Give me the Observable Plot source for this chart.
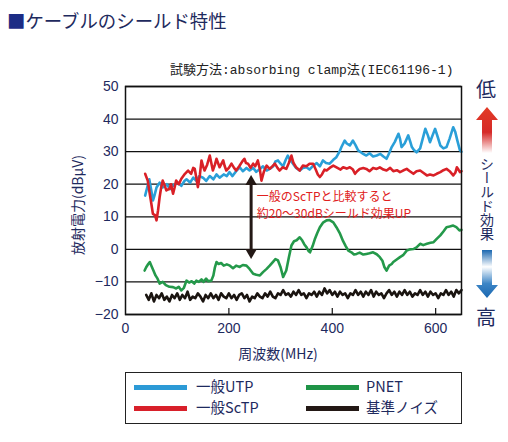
<!DOCTYPE html>
<html><head><meta charset="utf-8">
<script src="https://cdn.jsdelivr.net/npm/d3@7"></script>
<script src="https://cdn.jsdelivr.net/npm/@observablehq/plot@0.6"></script>
<style>
body{margin:0;background:#fff;}
#wrap{position:relative;width:508px;height:442px;overflow:hidden;font-family:"Noto Sans CJK JP",sans-serif;color:#1e2a5e;background:#fff}
#wrap > svg{position:absolute;left:0;top:0}
.abs{position:absolute;white-space:nowrap;line-height:1}
.lg{position:absolute;font-size:14.5px;line-height:1;white-space:nowrap}
.sw{position:absolute;width:53px;height:5px}
</style></head><body><div id="wrap">
<div class="abs" style="left:7px;top:11px;font-size:18.4px;"><span style="color:#1c2c85">■</span>ケーブルのシールド特性</div>
<div class="abs" style="left:170px;top:64px;font-size:13px;color:#222;font-family:'Liberation Mono','Noto Sans CJK JP',monospace">試験方法:absorbing clamp法(IEC61196-1)</div>
<div class="abs" style="left:77px;top:205px;font-size:14px;transform:translate(-50%,-50%) rotate(-90deg);transform-origin:center">放射電力(dBμV)</div>
<div class="abs" style="left:278px;top:353px;font-size:14px;transform:translate(-50%,-50%)">周波数(MHz)</div>
<div class="abs" style="left:476px;top:79px;font-size:20px;">低</div>
<div class="abs" style="left:476px;top:307px;font-size:20px;">高</div>
<div class="abs" style="left:480px;top:157px;font-size:14px;writing-mode:vertical-rl;line-height:1;">シールド効果</div>
<svg style="position:absolute;left:476px;top:105px" width="24" height="195">
<defs>
<linearGradient id="gr" x1="0" y1="0" x2="0" y2="1">
<stop offset="0" stop-color="#e23b26"/><stop offset="0.55" stop-color="#d62a28"/><stop offset="1" stop-color="#ffffff"/>
</linearGradient>
<linearGradient id="gb" x1="0" y1="0" x2="0" y2="1">
<stop offset="0" stop-color="#1a67b0"/><stop offset="0.35" stop-color="#ffffff"/><stop offset="0.7" stop-color="#3c85c6"/><stop offset="1" stop-color="#1a67b0"/>
</linearGradient>
</defs>
<path d="M11,2 L22,15 L16,15 L16,48 L6,48 L6,15 L0,15 Z" fill="url(#gr)"/>
<path d="M6,145 L16,145 L16,180 L22,180 L11,193 L0,180 L6,180 Z" fill="url(#gb)"/>
</svg>
<div class="abs" style="left:125px;top:372px;width:335px;height:50px;border:1px solid #222;"></div>
<div class="sw" style="left:134px;top:385px;background:#2c9ad6"></div>
<div class="lg" style="left:196px;top:379px">一般UTP</div>
<div class="sw" style="left:134px;top:406px;background:#d8202a"></div>
<div class="lg" style="left:196px;top:400px">一般ScTP</div>
<div class="sw" style="left:306px;top:385px;background:#1f9447"></div>
<div class="lg" style="left:366px;top:379px">PNET</div>
<div class="sw" style="left:306px;top:406px;background:#231815"></div>
<div class="lg" style="left:366px;top:400px">基準ノイズ</div>
</div>
<script>
const yTicks = [-20, -10, 0, 10, 20, 30, 40, 50];
const xTicks = [0, 200, 400, 600];

const utpMHz = [38,42,46,50,53,56,60,66,72,80,86,92,100,108,114,118,125,131,137,143,150,156,163,170,176,182,190,196,201,207,214,221,227,234,240,247,253,260,266,273,279,286,290,295,300,305,310,314,318,324,330,337,343,350,356,363,370,376,382,388,395,402,408,414,418,424,428,434,440,445,450,458,466,472,479,486,493,499,505,510,515,521,528,531,534,540,547,551,554,558,563,570,575,580,585,589,594,599,604,609,615,621,627,634,638,642,647,650];
const utpDb = [16.5,19,21.5,18,15,16.5,19,20.5,19,20,18.5,19.5,20.5,19.5,21,21.5,20.5,22,21,22.5,22,21,22.5,21.5,23,22,23,22.5,23.7,22.5,24,25.2,24,25,24.2,25,23.8,24.7,25.5,24.2,24.7,25.5,27,27.3,26.3,25.5,27.5,28.8,27.5,26.3,25,24.2,25,25.2,24.5,25.7,26.5,25.5,27.3,26.5,26.3,27.5,28.3,30,31.5,33.4,32.5,31.9,33.4,32,30.4,29.5,28.8,29.5,28.5,28.8,29.3,28.5,27.8,29.5,31.4,33,35.5,34,31.4,32.5,35,33,31.4,30.5,29.8,31,34,37,35,32.9,35,37,34.5,31.9,31,31.4,34,37.5,36,33.4,30.4,30];

const sctpMHz = [38,43,47,50,53,57,60,63,66,69,72,76,79,85,88,92,95,98,103,108,115,121,127,131,134,137,140,144,147,150,153,158,163,166,169,173,176,182,189,192,195,200,205,210,214,220,226,230,233,237,242,247,251,256,260,263,268,273,279,284,289,294,298,304,311,316,321,325,330,337,343,350,356,363,368,372,376,380,385,389,395,402,410,416,421,428,434,440,444,448,453,460,466,472,479,486,492,499,505,512,518,525,531,537,544,550,557,563,570,576,583,589,596,602,609,615,621,627,634,638,641,644,647,650];
const sctpDb = [23.2,21.1,17,14,10.9,10.5,8.9,12,16,19,21.1,19.5,18.1,18.6,20,17.1,19,21.1,20,21.7,23.2,24.2,23.2,25,24.7,22,19.1,23,27.3,25.5,24.2,26,28.8,26.5,24.2,26,27.8,25.2,27.3,25.5,24.2,25,26.3,25,24.2,25.5,27,27.8,26.5,26.3,25,26.3,25.5,27.3,24.5,21.1,24,25.7,24.7,25.5,26.3,25,24.2,25.2,24.7,26.5,28.8,26.5,25.2,24.2,25.7,25.5,26.3,26.3,24.5,23,22.2,23,24.5,24.2,25,25.7,25,24.5,25.2,24.8,25.2,24.5,23.2,24,24.7,25,24.7,24,25,24.7,25.2,24.5,24.2,25,24,24.3,23.7,24.2,24.7,24,23.2,24,24.2,23.5,22.7,23,22.7,23.2,23.7,24.3,24.7,24,22.7,23.5,25.2,24.5,23.7,24];

const pnetMHz = [37,40,44,47,50,54,58,62,66,72,78,85,92,98,103,108,113,118,123,128,133,137,142,147,151,156,160,166,170,173,176,180,185,190,196,202,208,214,221,227,234,240,247,253,260,266,273,279,285,290,295,300,305,311,316,321,326,331,337,342,346,350,354,357,362,366,371,376,382,389,395,402,408,415,421,426,431,437,442,447,453,460,466,472,479,486,492,497,501,505,510,515,518,524,531,537,544,550,557,563,570,576,583,590,596,602,609,615,621,627,634,640,646,650];
const pnetDb = [-6.5,-5.5,-4.5,-3.9,-5,-6.5,-8,-9,-10.5,-10,-11,-11.5,-11.6,-12,-11.5,-12.6,-11.8,-9.6,-10.2,-9.8,-10.5,-9.6,-10,-9.2,-10,-9,-9.8,-9.6,-8,-5.5,-3.9,-4.5,-4.2,-5,-4.6,-5,-5.8,-5,-5.4,-4.8,-5,-6,-7.5,-7.8,-8,-7,-6,-5,-3.9,-3,-3.4,-5.5,-8.5,-6.5,-2.5,1.2,2.5,2.8,3.7,2.7,1.5,0.7,-0.5,-0.9,1,3,5,6.8,8.2,8.9,9,8.3,6.8,4.8,2.5,1,-0.4,-0.9,-1.6,-1.4,-1,-1.6,-1.4,-1.2,-0.9,-1.5,-2.4,-3.5,-5.5,-6.5,-5,-4.5,-3.9,-3.2,-2.4,-1.8,-0.4,0,0.1,0.6,1.7,1.3,1.7,2,2.2,3.2,4.3,5.5,6.8,7,7.3,6.8,5.8,6];

const noiseMHz = [40,45,50,55,60,65,70,75,80,85,90,95,100,105,110,115,120,125,130,135,140,145,150,155,160,165,170,175,180,185,190,195,200,205,210,215,220,225,230,235,240,245,250,255,260,265,270,275,280,285,290,295,300,305,310,315,320,325,330,335,340,345,350,355,360,365,370,375,380,385,390,395,400,405,410,415,420,425,430,435,440,445,450,455,460,465,470,475,480,485,490,495,500,505,510,515,520,525,530,535,540,545,550,555,560,565,570,575,580,585,590,595,600,605,610,615,620,625,630,635,640,645,650];
const noiseDb = [-14,-15.5,-13.5,-16,-14,-15,-13.5,-15.5,-14.5,-16,-14,-15,-13.5,-15.5,-14,-15,-13,-15.5,-14.5,-15,-13.5,-14.5,-16,-14,-15,-13.5,-15,-14,-15.5,-13.5,-14.5,-15,-13.5,-15,-14,-15.5,-14,-13.5,-15,-14,-16,-14.5,-15,-13.5,-14.5,-15,-13.5,-14.5,-13,-14.5,-15,-13.5,-14,-12.5,-14,-13.5,-14.5,-13,-14,-12.5,-14,-13.5,-15,-13.5,-14,-13,-14.5,-13,-14,-12,-13.5,-12.5,-14,-13,-14.5,-13,-14,-13.5,-15,-13.5,-14,-12.5,-14,-13,-14.5,-13,-14,-12.5,-14.5,-13,-14,-13.5,-15,-13.5,-12.5,-14,-13,-14.5,-13,-14,-12.5,-14,-13,-14.5,-13.5,-14,-12.5,-14,-13,-14.5,-13,-14,-13.5,-15,-13.5,-14,-12.5,-14,-13,-14.5,-12.5,-13.5,-12.5];

const noteLines = ["一般のScTPと比較すると", "約20～30dBシールド効果UP"];
const noteMHz = 254;
const noteDb = 14.0;
const arrowMHz = 243;
const arrowTop = 22.7, arrowBottom = -2.8;

const pts = (xs, ys) => xs.map((x, i) => ({x, y: ys[i]}));
const lineOpts = (c) => ({x: "x", y: "y", stroke: c, strokeWidth: 2.6, strokeLinejoin: "round", strokeLinecap: "round"});

const chart = Plot.plot({
  width: 508, height: 442,
  marginLeft: 125, marginRight: 47, marginTop: 86, marginBottom: 128,
  style: {fontFamily: "'Liberation Sans Narrow','Liberation Sans',sans-serif", fontSize: "14px", color: "#1e2a5e", background: "transparent", overflow: "visible"},
  x: {domain: [0, 650]},
  y: {domain: [-20, 50]},
  marks: [
    Plot.ruleY(yTicks, {stroke: "#111", strokeWidth: 1.3}),
    Plot.tickX(xTicks.slice(1), {insetTop: 222, stroke: "#111", strokeWidth: 1.2}),
    Plot.axisY(yTicks, {tickSize: 0, tickPadding: 7, label: null, fontSize: 14}),
    Plot.axisX(xTicks, {tickSize: 0, tickPadding: 9, label: null, fontSize: 14}),
    Plot.line(pts(noiseMHz, noiseDb), lineOpts("#1a1410")),
    Plot.line(pts(pnetMHz, pnetDb), lineOpts("#24994a")),
    Plot.line(pts(utpMHz, utpDb), lineOpts("#2a9fd8")),
    Plot.line(pts(sctpMHz, sctpDb), lineOpts("#d92027")),
    Plot.ruleX([arrowMHz], {y1: arrowTop - 2.5, y2: arrowBottom + 2.5, stroke: "#231815", strokeWidth: 3}),
    Plot.dot([{x: arrowMHz, y: arrowTop - 1.9}], {x: "x", y: "y", symbol: "triangle", r: 4.3, fill: "#231815"}),
    Plot.dot([{x: arrowMHz, y: arrowBottom + 1.9}], {x: "x", y: "y", symbol: "triangle", r: 4.3, fill: "#231815", rotate: 180}),
    Plot.text([noteLines.join("\n")], {x: () => noteMHz, y: () => noteDb, text: d => d, textAnchor: "start", lineAnchor: "middle", lineHeight: 1.42, fill: "#e02020", fontSize: 12, fontFamily: "'Noto Sans CJK JP',sans-serif"}),
    Plot.frame({stroke: "#111", strokeWidth: 1.5})
  ]
});
document.getElementById("wrap").prepend(chart);
</script></body></html>
